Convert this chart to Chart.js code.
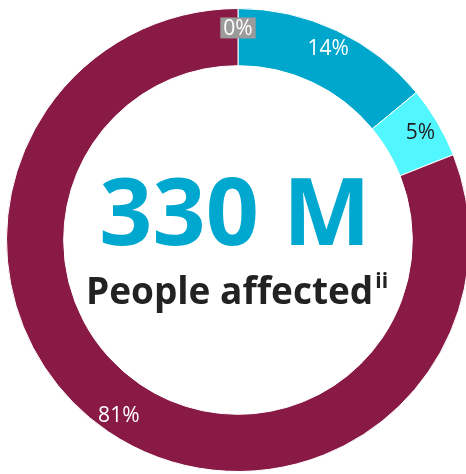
<!DOCTYPE html>
<html>
<head>
<meta charset="utf-8">
<script src="https://cdn.jsdelivr.net/npm/chart.js@4"></script>
<style>
  html, body { margin: 0; padding: 0; background: #fff; overflow: hidden; }
  #wrap { position: absolute; left: 0; top: 0; width: 476px; height: 480px; }
</style>
</head>
<body>
<div id="wrap"><canvas id="graficoDona"></canvas></div>
<script>
const categorias = ["Sin datos", "Grupo A", "Grupo B", "Grupo C"]
const valores = [0, 14, 5, 81]
const colores = ["#9b9b9b", "#00a7cd", "#52f6ff", "#891a46"]
const coloresTexto = ["#ffffff", "#ffffff", "#1e1e1e", "#ffffff"]
const cifraCentral = "330 M"
const textoCentral = "People affected"
const notaCentral = "ii"

// etiquetas de porcentaje sobre cada arco
const etiquetasArcos = {
  id: "etiquetasArcos",
  afterDatasetsDraw(chart) {
    const ctx = chart.ctx
    const meta = chart.getDatasetMeta(0)
    ctx.save()
    ctx.font = "21px 'Open Sans'"
    ctx.textAlign = "center"
    ctx.textBaseline = "middle"
    meta.data.forEach((arco, i) => {
      const p = arco.getProps(["x", "y", "startAngle", "endAngle", "innerRadius", "outerRadius"], true)
      const ang = (p.startAngle + p.endAngle) / 2
      const r = p.innerRadius + (p.outerRadius - p.innerRadius) * 0.66
      const x = p.x + Math.cos(ang) * r
      const y = p.y + Math.sin(ang) * r
      const txt = valores[i] + "%"
      if (valores[i] === 0) {
        const w = ctx.measureText(txt).width + 6
        ctx.fillStyle = colores[i]
        ctx.fillRect(x - w / 2, y - 10.5, w, 21)
      }
      ctx.fillStyle = coloresTexto[i]
      ctx.fillText(txt, x, y + 1)
    })
    ctx.restore()
  }
}

// cifra y texto del centro
const textoCentro = {
  id: "textoCentro",
  afterDraw(chart) {
    const ctx = chart.ctx
    const meta = chart.getDatasetMeta(0)
    const cx = meta.data[0].x
    const cy = meta.data[0].y
    ctx.save()
    ctx.textBaseline = "alphabetic"
    ctx.textAlign = "center"
    ctx.fillStyle = "#00a8cf"
    ctx.font = "bold 93px 'Open Sans'"
    ctx.fillText(cifraCentral, cx - 3, cy + 5)

    ctx.font = "bold 37px 'Open Sans'"
    const w1 = ctx.measureText(textoCentral).width
    ctx.font = "bold 21px 'Open Sans'"
    const w2 = ctx.measureText(notaCentral).width
    const x0 = cx - 1 - (w1 + w2 + 2) / 2
    ctx.textAlign = "left"
    ctx.fillStyle = "#222222"
    ctx.font = "bold 37px 'Open Sans'"
    ctx.fillText(textoCentral, x0, cy + 64)
    ctx.font = "bold 21px 'Open Sans'"
    ctx.fillText(notaCentral, x0 + w1 + 2, cy + 48)
    ctx.restore()
  }
}

const dona = document.getElementById("graficoDona")

new Chart(dona, {
  type: "doughnut",
  data: {
    labels: categorias,
    datasets: [
      {
        data: valores,
        backgroundColor: colores,
        borderColor: "#ffffff",
        borderWidth: 1,
      },
    ],
  },
  options: {
    responsive: true,
    maintainAspectRatio: false,
    animation: false,
    cutout: "75.3%",
    layout: { padding: { left: 6, right: 6, top: 8, bottom: 8 } },
    plugins: {
      legend: { display: false },
      tooltip: { enabled: false },
    },
  },
  plugins: [etiquetasArcos, textoCentro],
})
</script>
</body>
</html>
